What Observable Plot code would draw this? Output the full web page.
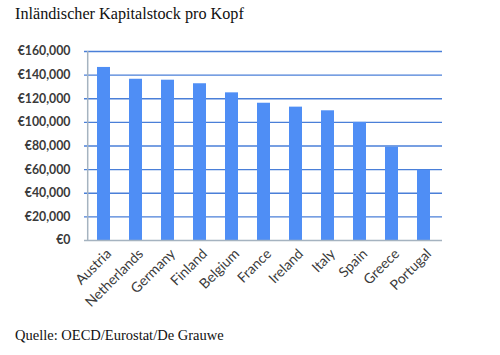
<!DOCTYPE html>
<html>
<head>
<meta charset="utf-8">
<script src="https://cdn.jsdelivr.net/npm/d3@7"></script>
<script src="https://cdn.jsdelivr.net/npm/@observablehq/plot@0.6"></script>
<style>
  html, body { margin: 0; padding: 0; background: #fff; }
  #wrap { position: relative; width: 500px; height: 355px; overflow: hidden; }
  #title { position: absolute; left: 15px; top: 5px; font-family: "Liberation Serif", serif; font-size: 16.2px; color: #111; white-space: nowrap; }
  #caption { position: absolute; left: 15px; top: 327px; font-family: "Liberation Serif", serif; font-size: 14.5px; color: #111; white-space: nowrap; }
  #chart { position: absolute; left: 0; top: 0; }
</style>
</head>
<body>
<div id="wrap">
  <div id="chart"></div>
  <div id="title">Inländischer Kapitalstock pro Kopf</div>
  <div id="caption">Quelle: OECD/Eurostat/De Grauwe</div>
</div>
<script>
const countries = ["Austria", "Netherlands", "Germany", "Finland", "Belgium", "France", "Ireland", "Italy", "Spain", "Greece", "Portugal"];
const values = [146500, 136500, 135700, 132700, 125000, 116200, 112900, 109800, 100000, 79000, 59500];
const yTicks = [0, 20000, 40000, 60000, 80000, 100000, 120000, 140000, 160000];
const gridTicks = [20000, 40000, 60000, 80000, 100000, 120000, 140000, 160000];

const data = countries.map((c, i) => ({country: c, value: values[i]}));
const fmt = v => "€" + d3.format(",")(v);

const chart = Plot.plot({
  width: 500,
  height: 355,
  marginLeft: 84,
  marginRight: 58,
  marginTop: 51,
  marginBottom: 115,
  style: {fontFamily: "Lato, 'Open Sans', sans-serif", background: "transparent"},
  x: {domain: countries, paddingInner: 0.6, paddingOuter: 0.3, label: null},
  y: {domain: [0, 160000], label: null},
  marks: [
    Plot.ruleY(gridTicks, {stroke: "#4a7fd8", strokeWidth: 1.3}),
    Plot.barY(data, {x: "country", y: "value", fill: "#4f8ef5"}),
    Plot.ruleY([0], {stroke: "#a5b3c0", strokeWidth: 1.5}),
    Plot.ruleX([countries[0]], {y1: 0, y2: 160000, stroke: "#a5b3c0", strokeWidth: 1.5, dx: -16.3}),
    Plot.axisY(yTicks, {tickSize: 0, tickPadding: 14, tickFormat: fmt, fontSize: 12.3, fontWeight: "bold", fill: "#3a3a3a", label: null}),
    Plot.axisX({tickSize: 0, tickPadding: 11, tickRotate: -45, fontSize: 14, fill: "#3a3a3a", label: null, dx: 5})
  ]
});
document.getElementById("chart").appendChild(chart);
</script>
</body>
</html>
